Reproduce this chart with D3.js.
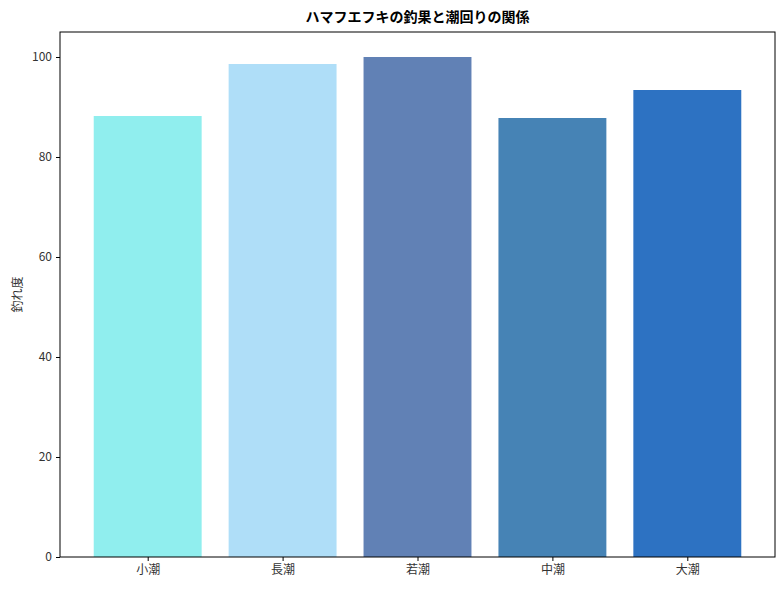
<!DOCTYPE html>
<html><head><meta charset="utf-8">
<script src="https://cdn.jsdelivr.net/npm/d3@7"></script>
<style>body{margin:0;background:#fff}text{font-family:"Noto Sans CJK JP","Noto Sans",sans-serif}</style>
</head><body><svg id="c" width="784" height="590"></svg>
<script>
const categories=["小潮","長潮","若潮","中潮","大潮"];
const values=[88.2,98.6,100,87.8,93.4];
const colors=["#90EEEE","#AFDEF8","#6181B5","#4683B5","#2D72C2"];
const yTicks=[0,20,40,60,80,100];
const svg=d3.select("#c");
const L=60,R=775,T=32,B=557;
const x=d3.scaleLinear().domain([-0.65,4.65]).range([L,R]);
const y=d3.scaleLinear().domain([0,105]).range([B,T]);
const bw=x(0.4)-x(-0.4);
svg.selectAll("rect.b").data(values).enter().append("rect")
 .attr("x",(d,i)=>x(i)-bw/2).attr("width",bw)
 .attr("y",d=>y(d)).attr("height",d=>B-y(d)).attr("fill",(d,i)=>colors[i]);
const ya=svg.append("g").attr("transform",`translate(${L},0)`)
 .call(d3.axisLeft(y).tickValues(yTicks).tickSize(4).tickPadding(4));
const xa=svg.append("g").attr("transform",`translate(0,${B})`)
 .call(d3.axisBottom(x).tickValues(d3.range(5)).tickFormat(i=>categories[i]).tickSize(4).tickPadding(4));
[ya,xa].forEach(g=>{g.select(".domain").remove();g.selectAll("text").attr("font-size",12).attr("fill","#333");g.selectAll("line").attr("stroke","#000");});
svg.append("rect").attr("x",L).attr("y",T).attr("width",R-L).attr("height",B-T).attr("fill","none").attr("stroke","#000");
svg.append("text").attr("x",(L+R)/2).attr("y",22).attr("text-anchor","middle").attr("font-size",14).attr("font-weight","bold").text("ハマフエフキの釣果と潮回りの関係");
svg.append("text").attr("transform",`translate(22,${(T+B)/2}) rotate(-90)`).attr("text-anchor","middle").attr("font-size",12).attr("fill","#333").text("釣れ度");
</script></body></html>
